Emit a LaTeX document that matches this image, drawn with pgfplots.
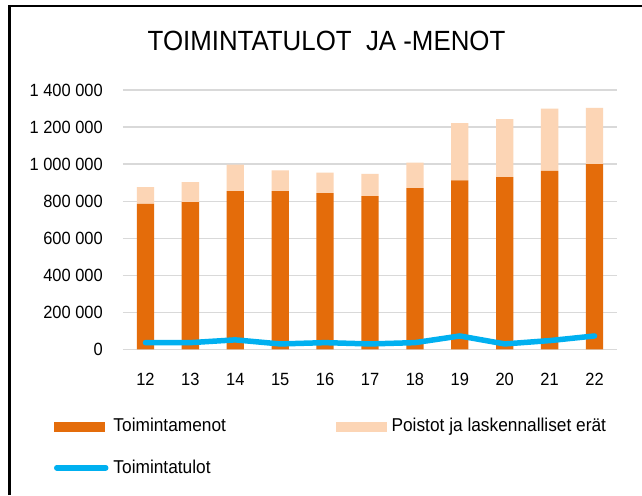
\documentclass[border=0pt]{standalone}
\usepackage{fontspec}
\setmainfont{Liberation Sans}[FakeStretch=0.93]
\usepackage{pgfplots}
\pgfplotsset{compat=1.18}

\definecolor{menot}{HTML}{E46C0A}
\definecolor{poistot}{HTML}{FCD5B5}
\definecolor{tulot}{HTML}{00B0F0}
\definecolor{gridgray}{HTML}{D9D9D9}

\pgfplotsset{chart/.style={
    at={(123pt,145.5pt)}, anchor=south west,
    scale only axis, width=494pt, height=259.5pt,
    xmin=-0.5, xmax=10.5, ymin=0, ymax=1400000}}

\begin{document}
\begin{tikzpicture}
\useasboundingbox (0,0) rectangle (642pt,495pt);
\fill[white] (0,0) rectangle (642pt,495pt);
% chart frame, cropped at right and bottom
\draw[line width=2.5pt] (9.5pt,0) -- (9.5pt,489pt) -- (642pt,489pt);
\node[anchor=base, inner sep=0pt, font=\fontsize{27.8}{32}\selectfont]
  at (326.5pt,444pt) {TOIMINTATULOT\ \ JA -MENOT};

\begin{axis}[chart,
    ybar stacked, bar width=17.3pt,
    axis line style={draw=none}, major tick length=0pt,
    ymajorgrids, grid style={gridgray, line width=1.3pt},
    xtick={0,1,2,3,4,5,6,7,8,9,10},
    xticklabels={12,13,14,15,16,17,18,19,20,21,22},
    ytick={0,200000,400000,600000,800000,1000000,1200000,1400000},
    yticklabels={0,200 000,400 000,600 000,800 000,1 000 000,1 200 000,1 400 000},
    scaled y ticks=false,
    tick label style={font=\fontsize{17.7}{21}\selectfont, inner sep=0pt},
    xticklabel style={anchor=base, yshift=-35.5pt},
    yticklabel style={anchor=east, xshift=-20pt},
    legend columns=2,
    legend cell align=left,
    legend style={at={(axis description cs:-0.13968,-0.264)}, anchor=north west,
      draw=none, fill=none, inner sep=0pt, outer sep=0pt,
      font=\fontsize{18.6}{22}\selectfont, row sep=24.5pt,
      nodes={inner sep=0pt, text height=13.5pt, text depth=4pt},
      /tikz/every odd column/.append style={column sep=5pt},
      /tikz/every even column/.append style={column sep=109.6pt}},
]
\addplot[fill=menot, draw=none,
  legend image code/.code={\fill[menot] (0pt,-5pt) rectangle (51pt,5pt);}]
  coordinates {(0,785000) (1,795000) (2,854000) (3,854000) (4,843000) (5,827000)
               (6,871000) (7,912000) (8,930000) (9,964000) (10,1000000)};
\addlegendentry{Toimintamenot}
\addplot[fill=poistot, draw=none,
  legend image code/.code={\fill[poistot] (0pt,-5pt) rectangle (51pt,5pt);}]
  coordinates {(0,91000) (1,108000) (2,143000) (3,112000) (4,111000) (5,120000)
               (6,137000) (7,309000) (8,313000) (9,335000) (10,304000)};
\addlegendentry{Poistot ja laskennalliset erät}
\addlegendimage{tulot, line width=5.5pt, line cap=round,
  legend image code/.code={\draw[tulot, line width=5.5pt, line cap=round] (2.5pt,1pt) -- (51.5pt,1pt);}}
\addlegendentry{Toimintatulot}
\end{axis}

\begin{axis}[chart, hide axis]
\addplot[tulot, line width=5.5pt, line cap=round, line join=round, mark=none]
  coordinates {(0,37000) (1,37000) (2,52000) (3,30000) (4,37000) (5,30000)
               (6,37000) (7,73000) (8,30000) (9,48000) (10,73000)};
\end{axis}
\end{tikzpicture}
\end{document}
